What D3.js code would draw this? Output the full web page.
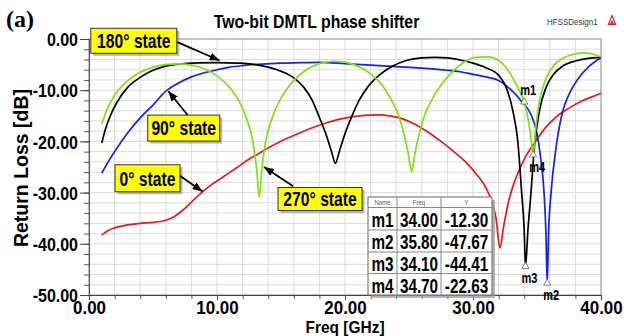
<!DOCTYPE html>
<html>
<head>
<meta charset="utf-8">
<script src="https://cdn.jsdelivr.net/npm/d3@7"></script>
<style>
  body { margin: 0; background: #fff; }
  svg { display: block; }
</style>
</head>
<body>
<svg id="chart" width="624" height="336"></svg>
<script>
// Return loss (dB) versus frequency (GHz) for the four phase states.
const state0 = [[1,-38.3],[1.5,-37.4],[2,-36.9],[3,-36.3],[4,-36.0],[5,-35.8],[6,-35.4],[6.7,-34.6],[7.4,-33.3],[8.1,-31.6],[8.8,-30.0],[9.6,-28.4],[10.5,-26.9],[11.5,-25.2],[12.5,-23.5],[13.5,-22.0],[14.5,-20.6],[15.5,-19.4],[16.5,-18.3],[17.5,-17.3],[18.5,-16.4],[19.5,-15.7],[20.5,-15.2],[21.5,-14.9],[22.5,-14.8],[23.5,-15.0],[24.5,-15.6],[25.5,-16.7],[26.5,-18.2],[27.5,-20.0],[28.5,-22.0],[29.5,-24.2],[30.3,-26.5],[31,-29.0],[31.5,-32.0],[31.8,-35.0],[32.1,-40.8],[32.4,-36.5],[32.8,-31.5],[33.3,-27.5],[34,-23.5],[34.8,-20.3],[35.6,-17.5],[36.5,-15.2],[37.5,-13.5],[38.5,-12.1],[39.3,-11.3],[40,-10.6]];
const state90 = [[1,-26.2],[1.5,-24.0],[2,-22.0],[3,-18.4],[4,-15.4],[5,-12.9],[6,-10.2],[7,-8.6],[8,-7.4],[9,-6.6],[10,-6.0],[11,-5.5],[12,-5.2],[13.5,-4.9],[15,-4.7],[16.5,-4.6],[18,-4.55],[20,-4.8],[22,-5.1],[24,-5.4],[26,-5.7],[28,-6.1],[29,-6.4],[30,-6.9],[31,-7.4],[32,-8.1],[33,-10.0],[33.8,-12.2],[34.5,-14.6],[35,-18.5],[35.3,-23.5],[35.55,-30.0],[35.7,-38.0],[35.8,-47.67],[35.9,-38.0],[36.1,-30.0],[36.5,-21.0],[37,-14.2],[37.5,-10.8],[38.2,-7.8],[39,-5.5],[40,-3.6]];
const state180 = [[1,-20.3],[1.3,-17.5],[1.7,-14.8],[2.2,-12.3],[3,-9.5],[4,-7.5],[5,-6.1],[6,-5.3],[7,-4.9],[8.5,-4.65],[10,-4.6],[11.5,-4.7],[13,-5.0],[14,-5.5],[15,-6.3],[16,-7.6],[16.8,-9.5],[17.4,-11.8],[18,-15.3],[18.5,-18.5],[18.95,-22.0],[19.25,-24.3],[19.55,-22.0],[20,-18.5],[20.5,-15.3],[21.1,-12.0],[21.8,-9.3],[22.7,-7.0],[23.7,-5.3],[24.8,-4.2],[26,-3.7],[27,-3.6],[28,-3.7],[29,-4.1],[30,-4.7],[31,-5.6],[32,-7.1],[32.6,-9.5],[33.1,-13.9],[33.5,-20.0],[33.8,-30.0],[34,-37.3],[34.1,-44.41],[34.3,-37.0],[34.5,-31.0],[34.8,-21.0],[35.2,-13.9],[35.7,-9.5],[36.3,-6.9],[37,-5.3],[38,-4.3],[39,-3.8],[40,-3.6]];
const state270 = [[1,-16.6],[1.5,-13.2],[2,-11.0],[3,-8.2],[4,-6.5],[5,-5.5],[6,-5.0],[7,-4.85],[8,-5.1],[9,-5.8],[10,-7.2],[11,-9.5],[11.7,-12.0],[12.3,-15.5],[12.8,-20.0],[13.1,-25.5],[13.3,-30.9],[13.5,-25.5],[13.8,-20.0],[14.3,-15.5],[14.9,-12.0],[15.6,-9.3],[16.5,-6.9],[17.5,-5.3],[18.5,-4.5],[19.2,-4.35],[20,-4.5],[21,-5.3],[22,-6.8],[22.9,-9.0],[23.6,-11.8],[24.2,-15.0],[24.6,-18.5],[24.95,-22.5],[25.2,-25.9],[25.45,-22.5],[25.8,-18.5],[26.2,-15.0],[26.8,-11.8],[27.5,-9.0],[28.3,-6.6],[29.2,-4.7],[30.2,-3.6],[31.2,-3.5],[32,-4.2],[32.6,-5.6],[33.1,-7.6],[33.6,-10.0],[34,-12.3],[34.3,-15.5],[34.5,-18.8],[34.7,-22.63],[34.9,-17.5],[35.1,-13.5],[35.4,-10.0],[35.8,-7.2],[36.3,-5.2],[37,-3.8],[37.8,-3.0],[38.6,-2.7],[39.3,-2.9],[40,-3.5]];

const stateNames = ['0° state', '90° state', '180° state', '270° state'];
const stateColors = ['#e8191c', '#1420f0', '#000000', '#7ee015'];

const xTicks = [0, 10, 20, 30, 40];
const yTicks = [0, -10, -20, -30, -40, -50];

// Marker readouts (name, frequency in GHz, return loss in dB)
const markerNames = ['m1', 'm2', 'm3', 'm4'];
const markerFreq = [34.00, 35.80, 34.10, 34.70];
const markerDb = [-12.30, -47.67, -44.41, -22.63];

const SANS = '"Liberation Sans", Arial, Helvetica, sans-serif';
const svg = d3.select('#chart');

const x = d3.scaleLinear().domain([0, 40]).range([89, 601]);
const y = d3.scaleLinear().domain([-50, 0]).range([295, 39]);

// text helper: bold sans, optionally stretched vertically
function sText(g, str, px, py, size, k, anchor, opts = {}) {
  return g.append('text')
    .attr('transform', `translate(${px},${py}) scale(1,${k})`)
    .attr('text-anchor', anchor)
    .attr('font-family', opts.family || SANS)
    .attr('font-weight', opts.weight || 'bold')
    .attr('font-size', size)
    .attr('fill', opts.fill || '#000')
    .text(str);
}

// ---- grid ----
const grid = svg.append('g');
grid.selectAll('line.vx').data(d3.range(0, 41, 2)).join('line')
  .attr('x1', d => x(d)).attr('x2', d => x(d))
  .attr('y1', y(-50)).attr('y2', y(0))
  .attr('stroke', '#dadada').attr('stroke-width', 1);
grid.selectAll('line.hy').data(d3.range(-50, 1, 2)).join('line')
  .attr('x1', x(0)).attr('x2', x(40))
  .attr('y1', d => y(d)).attr('y2', d => y(d))
  .attr('stroke', '#dadada').attr('stroke-width', 1);

// plot frame
svg.append('rect')
  .attr('x', x(0)).attr('y', y(0))
  .attr('width', x(40) - x(0)).attr('height', y(-50) - y(0))
  .attr('fill', 'none').attr('stroke', '#a8a8a8').attr('stroke-width', 1.2);

// ---- axes ----
const yMinor = svg.append('g').attr('transform', `translate(${x(0)},0)`)
  .call(d3.axisLeft(y).tickValues(d3.range(-50, 1, 2)).tickSize(5).tickFormat(''));
yMinor.select('.domain').remove();
yMinor.selectAll('line').attr('stroke', '#555');

const yAxis = svg.append('g').attr('transform', `translate(${x(0)},0)`)
  .call(d3.axisLeft(y).tickValues(yTicks).tickSize(9).tickPadding(2).tickFormat(d => d.toFixed(2)));
yAxis.select('.domain').attr('stroke', '#555');
yAxis.selectAll('line').attr('stroke', '#444');
yAxis.selectAll('text')
  .attr('font-family', SANS).attr('font-weight', 'bold').attr('font-size', 16)
  .attr('fill', '#000').attr('dy', '0.36em')
  .attr('transform', 'scale(1,1.16)');

const xMinor = svg.append('g').attr('transform', `translate(0,${y(-50)})`)
  .call(d3.axisBottom(x).tickValues(d3.range(0, 41, 2)).tickSize(4).tickFormat(''));
xMinor.select('.domain').remove();
xMinor.selectAll('line').attr('stroke', '#555');

const xAxis = svg.append('g').attr('transform', `translate(0,${y(-50)})`)
  .call(d3.axisBottom(x).tickValues(xTicks).tickSize(5).tickPadding(6).tickFormat(d => d.toFixed(2)));
xAxis.select('.domain').attr('stroke', '#444').attr('stroke-width', 1.2);
xAxis.selectAll('line').attr('stroke', '#444');
xAxis.selectAll('text')
  .attr('font-family', SANS).attr('font-weight', 'bold').attr('font-size', 17)
  .attr('fill', '#000').attr('y', 0).attr('dy', 0)
  .attr('transform', 'translate(0,18.5) scale(1,1.08)');

// axis titles
sText(svg, 'Freq [GHz]', (x(0) + x(40)) / 2, 333, 15.5, 1.1, 'middle');
svg.append('text')
  .attr('transform', `translate(27.5,${(y(0) + y(-50)) / 2 + 1}) rotate(-90)`)
  .attr('text-anchor', 'middle')
  .attr('font-family', SANS).attr('font-weight', 'bold').attr('font-size', 19.5)
  .text('Return Loss [dB]');

// title, design name and panel tag
sText(svg, 'Two-bit DMTL phase shifter', 316.5, 28, 15.8, 1.15, 'middle');
sText(svg, 'HFSSDesign1', 547, 25, 8, 1.15, 'start', { weight: 'normal', fill: '#333' });
const logo = svg.append('g').attr('transform', 'translate(612,20)');
logo.append('path').attr('d', 'M0,-6 L4.5,5 L-4.5,5 Z').attr('fill', '#d8262b');
logo.append('path').attr('d', 'M0,-2 L2,3.5 M0,-2 L-2,3.5').attr('stroke', '#fff').attr('stroke-width', 0.9).attr('fill', 'none');
svg.append('text')
  .attr('x', 6).attr('y', 27)
  .attr('font-family', '"Liberation Serif", "Times New Roman", serif')
  .attr('font-weight', 'bold').attr('font-size', 24)
  .text('(a)');

// ---- curves ----
const line = d3.line()
  .x(d => x(d[0])).y(d => y(d[1]))
  .curve(d3.curveMonotoneX);

const allStates = [state0, state90, state180, state270];
svg.append('g').selectAll('path').data(allStates).join('path')
  .attr('d', line)
  .attr('fill', 'none')
  .attr('stroke', (d, i) => stateColors[i])
  .attr('stroke-width', 1.7)
  .attr('stroke-linejoin', 'round');

// ---- markers ----
const markerGroup = svg.append('g');
const triangle = d3.symbol().type(d3.symbolTriangle).size(22);
markerNames.forEach((name, i) => {
  const mx = x(markerFreq[i]), my = y(markerDb[i]);
  markerGroup.append('path')
    .attr('d', triangle)
    .attr('transform', `translate(${mx},${my})`)
    .attr('fill', '#fff').attr('stroke', '#666').attr('stroke-width', 0.8);
  const above = name === 'm1';
  sText(markerGroup, name, mx - 4, above ? my - 7 : my + 17, 11, 1.25, 'start');
});

// ---- state call-outs ----
const callouts = [
  { text: stateNames[2], box: [3.5, -0.35], w: 86, h: 25, tail: [6.9, -0.6], tip: [10.2, -4.2] },
  { text: stateNames[1], box: [7.4, -17.4], w: 72, h: 26, tail: [7.7, -14.85], tip: [6.2, -10.2] },
  { text: stateNames[0], box: [4.57, -27.2], w: 65, h: 27, tail: [7.1, -26.7], tip: [8.87, -29.8] },
  { text: stateNames[3], box: [18.05, -31.25], w: 84, h: 23, tail: [15.95, -28.75], tip: [13.67, -25.0] }
];

svg.append('defs').append('marker')
  .attr('id', 'arrowHead')
  .attr('viewBox', '0 0 10 8')
  .attr('refX', 10).attr('refY', 4)
  .attr('markerWidth', 10).attr('markerHeight', 8)
  .attr('markerUnits', 'userSpaceOnUse')
  .attr('orient', 'auto')
  .append('path').attr('d', 'M0,0 L10,4 L0,8 Z').attr('fill', '#000');

const notes = svg.append('g');
callouts.forEach(c => {
  const cx = x(c.box[0]), cy = y(c.box[1]);
  notes.append('rect')
    .attr('x', cx - c.w / 2 + 2.5).attr('y', cy - c.h / 2 + 2.5)
    .attr('width', c.w).attr('height', c.h)
    .attr('fill', '#9a9a9a').attr('opacity', 0.7);
  notes.append('rect')
    .attr('x', cx - c.w / 2).attr('y', cy - c.h / 2)
    .attr('width', c.w).attr('height', c.h)
    .attr('fill', '#ffff00').attr('stroke', '#333').attr('stroke-width', 1);
  sText(notes, c.text, cx, cy + 7.3, 15.7, 1.3, 'middle');
  notes.append('line')
    .attr('x1', x(c.tail[0])).attr('y1', y(c.tail[1]))
    .attr('x2', x(c.tip[0])).attr('y2', y(c.tip[1]))
    .attr('stroke', '#000').attr('stroke-width', 1.8)
    .attr('marker-end', 'url(#arrowHead)');
});

// ---- marker readout table ----
const tbl = svg.append('g').attr('transform', 'translate(368,197)');
const colX = [0, 29, 73, 124];
const rowY = [0, 10.5, 33, 55, 76.5, 98];
tbl.append('rect').attr('x', 3).attr('y', 3).attr('width', colX[3]).attr('height', rowY[5])
  .attr('fill', '#a0a0a0').attr('opacity', 0.8);
tbl.append('rect').attr('x', 0).attr('y', 0).attr('width', colX[3]).attr('height', rowY[5])
  .attr('fill', '#fff').attr('stroke', '#666').attr('stroke-width', 1);
colX.slice(1, 3).forEach(cx => tbl.append('line')
  .attr('x1', cx).attr('x2', cx).attr('y1', 0).attr('y2', rowY[5])
  .attr('stroke', '#888').attr('stroke-width', 1));
rowY.slice(1, 5).forEach(ry => tbl.append('line')
  .attr('x1', 0).attr('x2', colX[3]).attr('y1', ry).attr('y2', ry)
  .attr('stroke', '#888').attr('stroke-width', 1));
['Name', 'Freq', 'Y'].forEach((h, j) => {
  sText(tbl, h, (colX[j] + colX[j + 1]) / 2, 8, 6, 1.1, 'middle', { weight: 'normal', fill: '#555' });
});
markerNames.forEach((name, i) => {
  const base = rowY[i + 1] + 19;
  const cells = [name, markerFreq[i].toFixed(2), markerDb[i].toFixed(2)];
  cells.forEach((s, j) => {
    sText(tbl, s, (colX[j] + colX[j + 1]) / 2, base, 15.3, 1.27, 'middle');
  });
});
</script>
</body>
</html>
